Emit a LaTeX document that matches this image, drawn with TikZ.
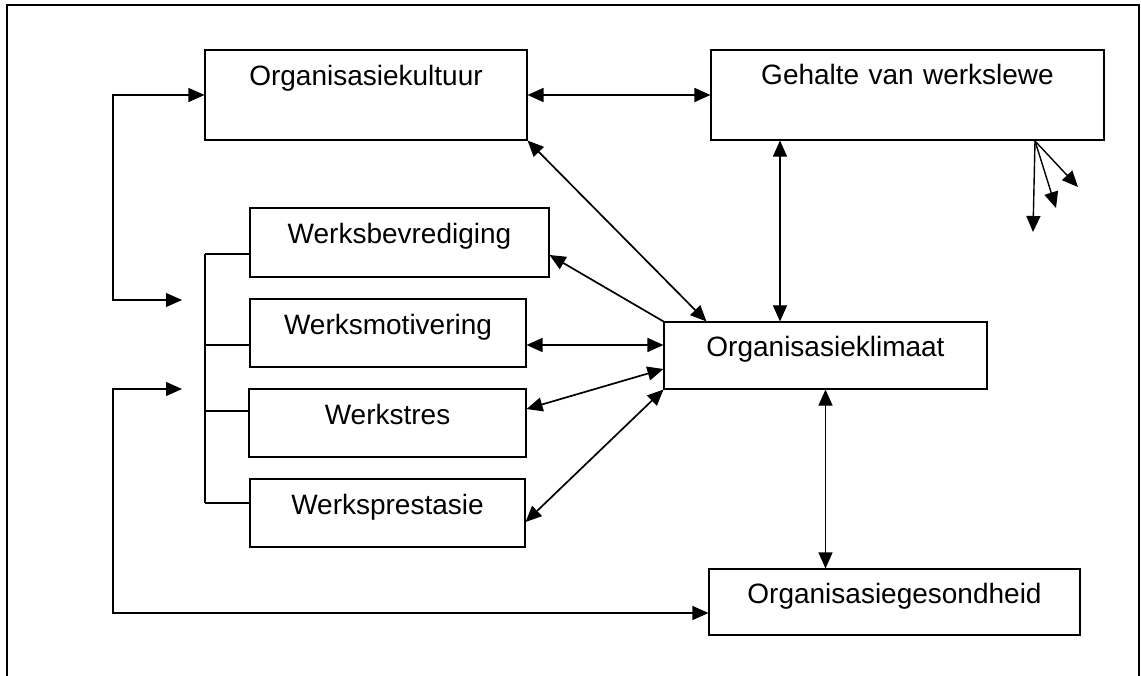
\documentclass[tikz,border=0pt]{standalone}
\usepackage{fontspec}
\setmainfont{Liberation Sans}
\usetikzlibrary{arrows.meta}
\tikzset{
  box/.style={draw, line width=1.1pt, rectangle, inner sep=0pt, align=center,
    font=\fontsize{28}{32}\selectfont},
  tip/.tip={Triangle[length=16pt,width=14pt]},
  dbl/.style={line width=1.7pt, tip-tip},
  sgl/.style={line width=1.7pt, -tip},
  thinline/.style={line width=1.1pt},
  frame/.style={line width=1.3pt}
}
\begin{document}
\begin{tikzpicture}[x=1pt,y=-1pt]
\useasboundingbox (0,0) rectangle (1141,676);
% outer frame
\draw[frame] (7,676) -- (7,5) -- (1139,5) -- (1139,676);
% boxes
\node[box, text width=322pt, text height=36pt, text depth=54pt] (kultuur) at (366,95) {Organisasiekultuur};
\node[box, text width=393pt, text height=35pt, text depth=55pt] (gehalte) at (907.5,95) {Gehalte van werkslewe};
\node[box, text width=299pt, text height=36pt, text depth=33pt] (bevrediging) at (399.5,242.5) {Werksbevrediging};
\node[box, text width=276pt, text height=36pt, text depth=32pt] (motivering) at (388,333) {Werksmotivering};
\node[box, text width=277pt, text height=35pt, text depth=33pt] (werkstres) at (387.5,423) {Werkstres};
\node[box, text width=275pt, text height=35pt, text depth=33pt] (prestasie) at (387.5,513) {Werksprestasie};
\node[box, text width=323pt, text height=35pt, text depth=32pt] (klimaat) at (825.5,355.5) {Organisasieklimaat};
\node[box, text width=371pt, text height=34pt, text depth=32pt] (gesondheid) at (894.5,602) {Organisasiegesondheid};
% connectors around the climate box
\draw[dbl] (kultuur.east) -- (gehalte.west);
\draw[dbl] (kultuur.south east) -- ([xshift=43pt]klimaat.north west);
\coordinate (gk) at ([xshift=-45.5pt]klimaat.north);
\draw[dbl, thinline] (gk) -- (gk |- gehalte.south);
\draw[dbl, thinline] (klimaat.south) -- (klimaat.south |- gesondheid.north);
\draw[sgl] (klimaat.north west) -- ([yshift=-12.5pt]bevrediging.east);
\coordinate (mo) at ([yshift=-12pt]motivering.east);
\draw[dbl] (mo) -- (mo -| klimaat.west);
\draw[dbl] ([yshift=14pt]werkstres.east) -- ([yshift=-13.5pt]klimaat.west);
\draw[dbl] ([yshift=-9pt]prestasie.east) -- (klimaat.south west);
% left loops
\coordinate (inA) at (182,300);
\coordinate (cA) at (113,300);
\draw[dbl, thinline] (inA) -- (cA) |- (kultuur.west);
\coordinate (inB) at (182,389);
\coordinate (cB) at (113,389);
\draw[dbl, thinline] (inB) -- (cB) |- ([yshift=-11pt]gesondheid.west);
% bracket
\coordinate (b1) at (205,254);
\coordinate (b2) at (205,345);
\coordinate (b3) at (205,411);
\coordinate (b4) at (205,503);
\draw[thinline] (b1) -- (b4);
\draw[thinline] (b1) -- (b1 -| bevrediging.west);
\draw[thinline] (b2) -- (b2 -| motivering.west);
\draw[thinline] (b3) -- (b3 -| werkstres.west);
\draw[thinline] (b4) -- (b4 -| prestasie.west);
% fan of arrows under Gehalte
\coordinate (fan) at (1035,141);
\coordinate (f1) at (1033,232);
\coordinate (f2) at (1056,208);
\coordinate (f3) at (1078,187);
\draw[sgl, line width=1.4pt] (fan) -- (f1);
\draw[sgl, line width=1.4pt] (fan) -- (f2);
\draw[sgl, line width=1.4pt] (fan) -- (f3);
\end{tikzpicture}
\end{document}
